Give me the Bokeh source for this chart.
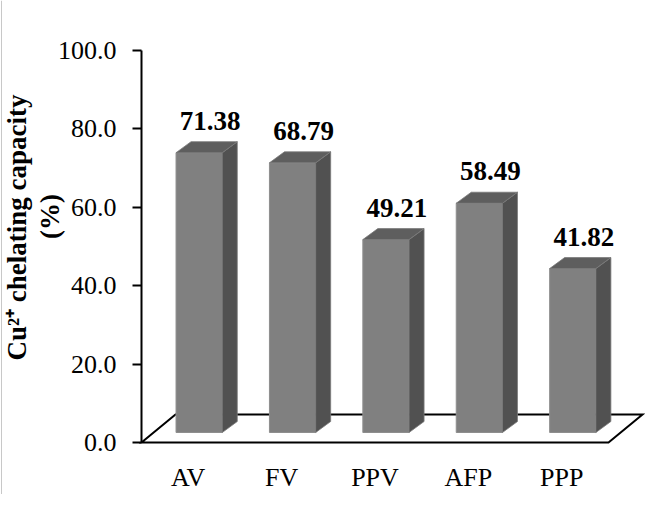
from math import pi
from bokeh.plotting import figure
from bokeh.models import LinearAxis, FixedTicker
from bokeh.core.properties import value
from bokeh.embed import file_html
from bokeh.resources import INLINE

# ---- data ----
categories = ["AV", "FV", "PPV", "AFP", "PPP"]
chelating = [71.38, 68.79, 49.21, 58.49, 41.82]
value_labels = ["71.38", "68.79", "49.21", "58.49", "41.82"]
y_ticks = [0, 20, 40, 60, 80, 100]
y_tick_labels = ["0.0", "20.0", "40.0", "60.0", "80.0", "100.0"]
y_title = ["Cu\u00b2\u207a chelating capacity", "(%)"]

# ---- layout (pixels) ----
W, H = 645, 494
AXIS_X = 141.0   # canvas x of the value axis
ZERO_Y = 442.0   # canvas y (top-down) of value 0
CAT_PX = 93.4    # pixels per category
VAL_PX = 3.92    # pixels per value unit
FONT = "Liberation Serif"


def dx(px):
    return px / CAT_PX


def dy(px):
    return px / VAL_PX


def cx(px):   # canvas x -> data x
    return (px - AXIS_X) / CAT_PX


def cy(px):   # canvas y (top-down) -> data y
    return (ZERO_Y - px) / VAL_PX


p = figure(width=W, height=H, output_backend="svg", toolbar_location=None,
           x_range=(cx(0), cx(W)), y_range=(cy(H), cy(0)),
           x_axis_type=None, y_axis_type=None,
           min_border=0, min_border_left=0, min_border_right=0,
           min_border_top=0, min_border_bottom=0,
           outline_line_color=None, background_fill_color="white")

n = len(categories)

# thin frame line at the left edge (as in the source image)
p.segment(x0=[cx(1)], y0=[cy(0)], x1=[cx(1)], y1=[cy(H)],
          line_color="#c8c8c8", line_width=1)

# floor
fdx, fdy = dx(34), dy(28)
p.patch([0, n, n + fdx, fdx], [0, 0, fdy, fdy], fill_color="white",
        line_color="black", line_width=2, line_join="miter")

# bars (3D look)
gap, bw = 0.236, 0.495
fx0, fy0 = dx(12.5), dy(10)
sx, sy = dx(15), dy(11)
lefts, rights, bottoms, tops = [], [], [], []
side_xs, side_ys, top_xs, top_ys = [], [], [], []
lab_x, lab_y = [], []
for i, v in enumerate(chelating):
    l = i + gap + fx0
    r = l + bw
    b = fy0
    t = fy0 + v
    lefts.append(l); rights.append(r); bottoms.append(b); tops.append(t)
    side_xs.append([r, r + sx, r + sx, r])
    side_ys.append([b, b + sy, t + sy, t])
    top_xs.append([l, r, r + sx, l + sx])
    top_ys.append([t, t, t + sy, t + sy])
    lab_x.append(l + bw / 2 + dx(11))
    lab_y.append(t + dy(32))

p.quad(left=lefts, right=rights, bottom=bottoms, top=tops,
       fill_color="#808080", line_color="#8e8e8e", line_width=1)
p.patches(side_xs, side_ys, fill_color="#515151", line_color="#7a7a7a", line_width=0.8)
p.patches(top_xs, top_ys, fill_color="#5e5e5e", line_color="#7a7a7a", line_width=0.8)

# value labels
p.text(x=lab_x, y=lab_y, text=value_labels, text_font=value(FONT),
       text_font_style="bold", text_font_size="27px", text_color="black",
       text_align="center", text_baseline="alphabetic")

# y title (two rotated lines)
p.text(x=[cx(16), cx(49)], y=[cy(227), cy(216)],
       text=y_title, angle=pi / 2, text_font=value(FONT),
       text_font_style="bold", text_font_size="27px", text_color="black",
       text_align="center", text_baseline="middle")

# value axis
yax = LinearAxis(fixed_location=0, bounds=(0, 100),
                 ticker=FixedTicker(ticks=y_ticks),
                 major_label_overrides=dict(zip(y_ticks, y_tick_labels)),
                 axis_line_color="black", axis_line_width=2,
                 major_tick_line_color="black", major_tick_line_width=2,
                 major_tick_in=0, major_tick_out=9,
                 minor_tick_line_color=None,
                 major_label_standoff=16,
                 major_label_text_font=FONT,
                 major_label_text_font_size="26px",
                 major_label_text_color="black")
p.add_layout(yax, "left")

# category axis
cat_ticks = [i + 0.5 for i in range(n)]
xax = LinearAxis(fixed_location=0,
                 ticker=FixedTicker(ticks=cat_ticks),
                 major_label_overrides=dict(zip(cat_ticks, categories)),
                 axis_line_color=None, major_tick_line_color=None,
                 minor_tick_line_color=None,
                 major_label_standoff=14,
                 major_label_text_font=FONT,
                 major_label_text_font_size="26px",
                 major_label_text_color="black")
p.add_layout(xax, "below")

open("out.html", "w").write(file_html(p, INLINE))
